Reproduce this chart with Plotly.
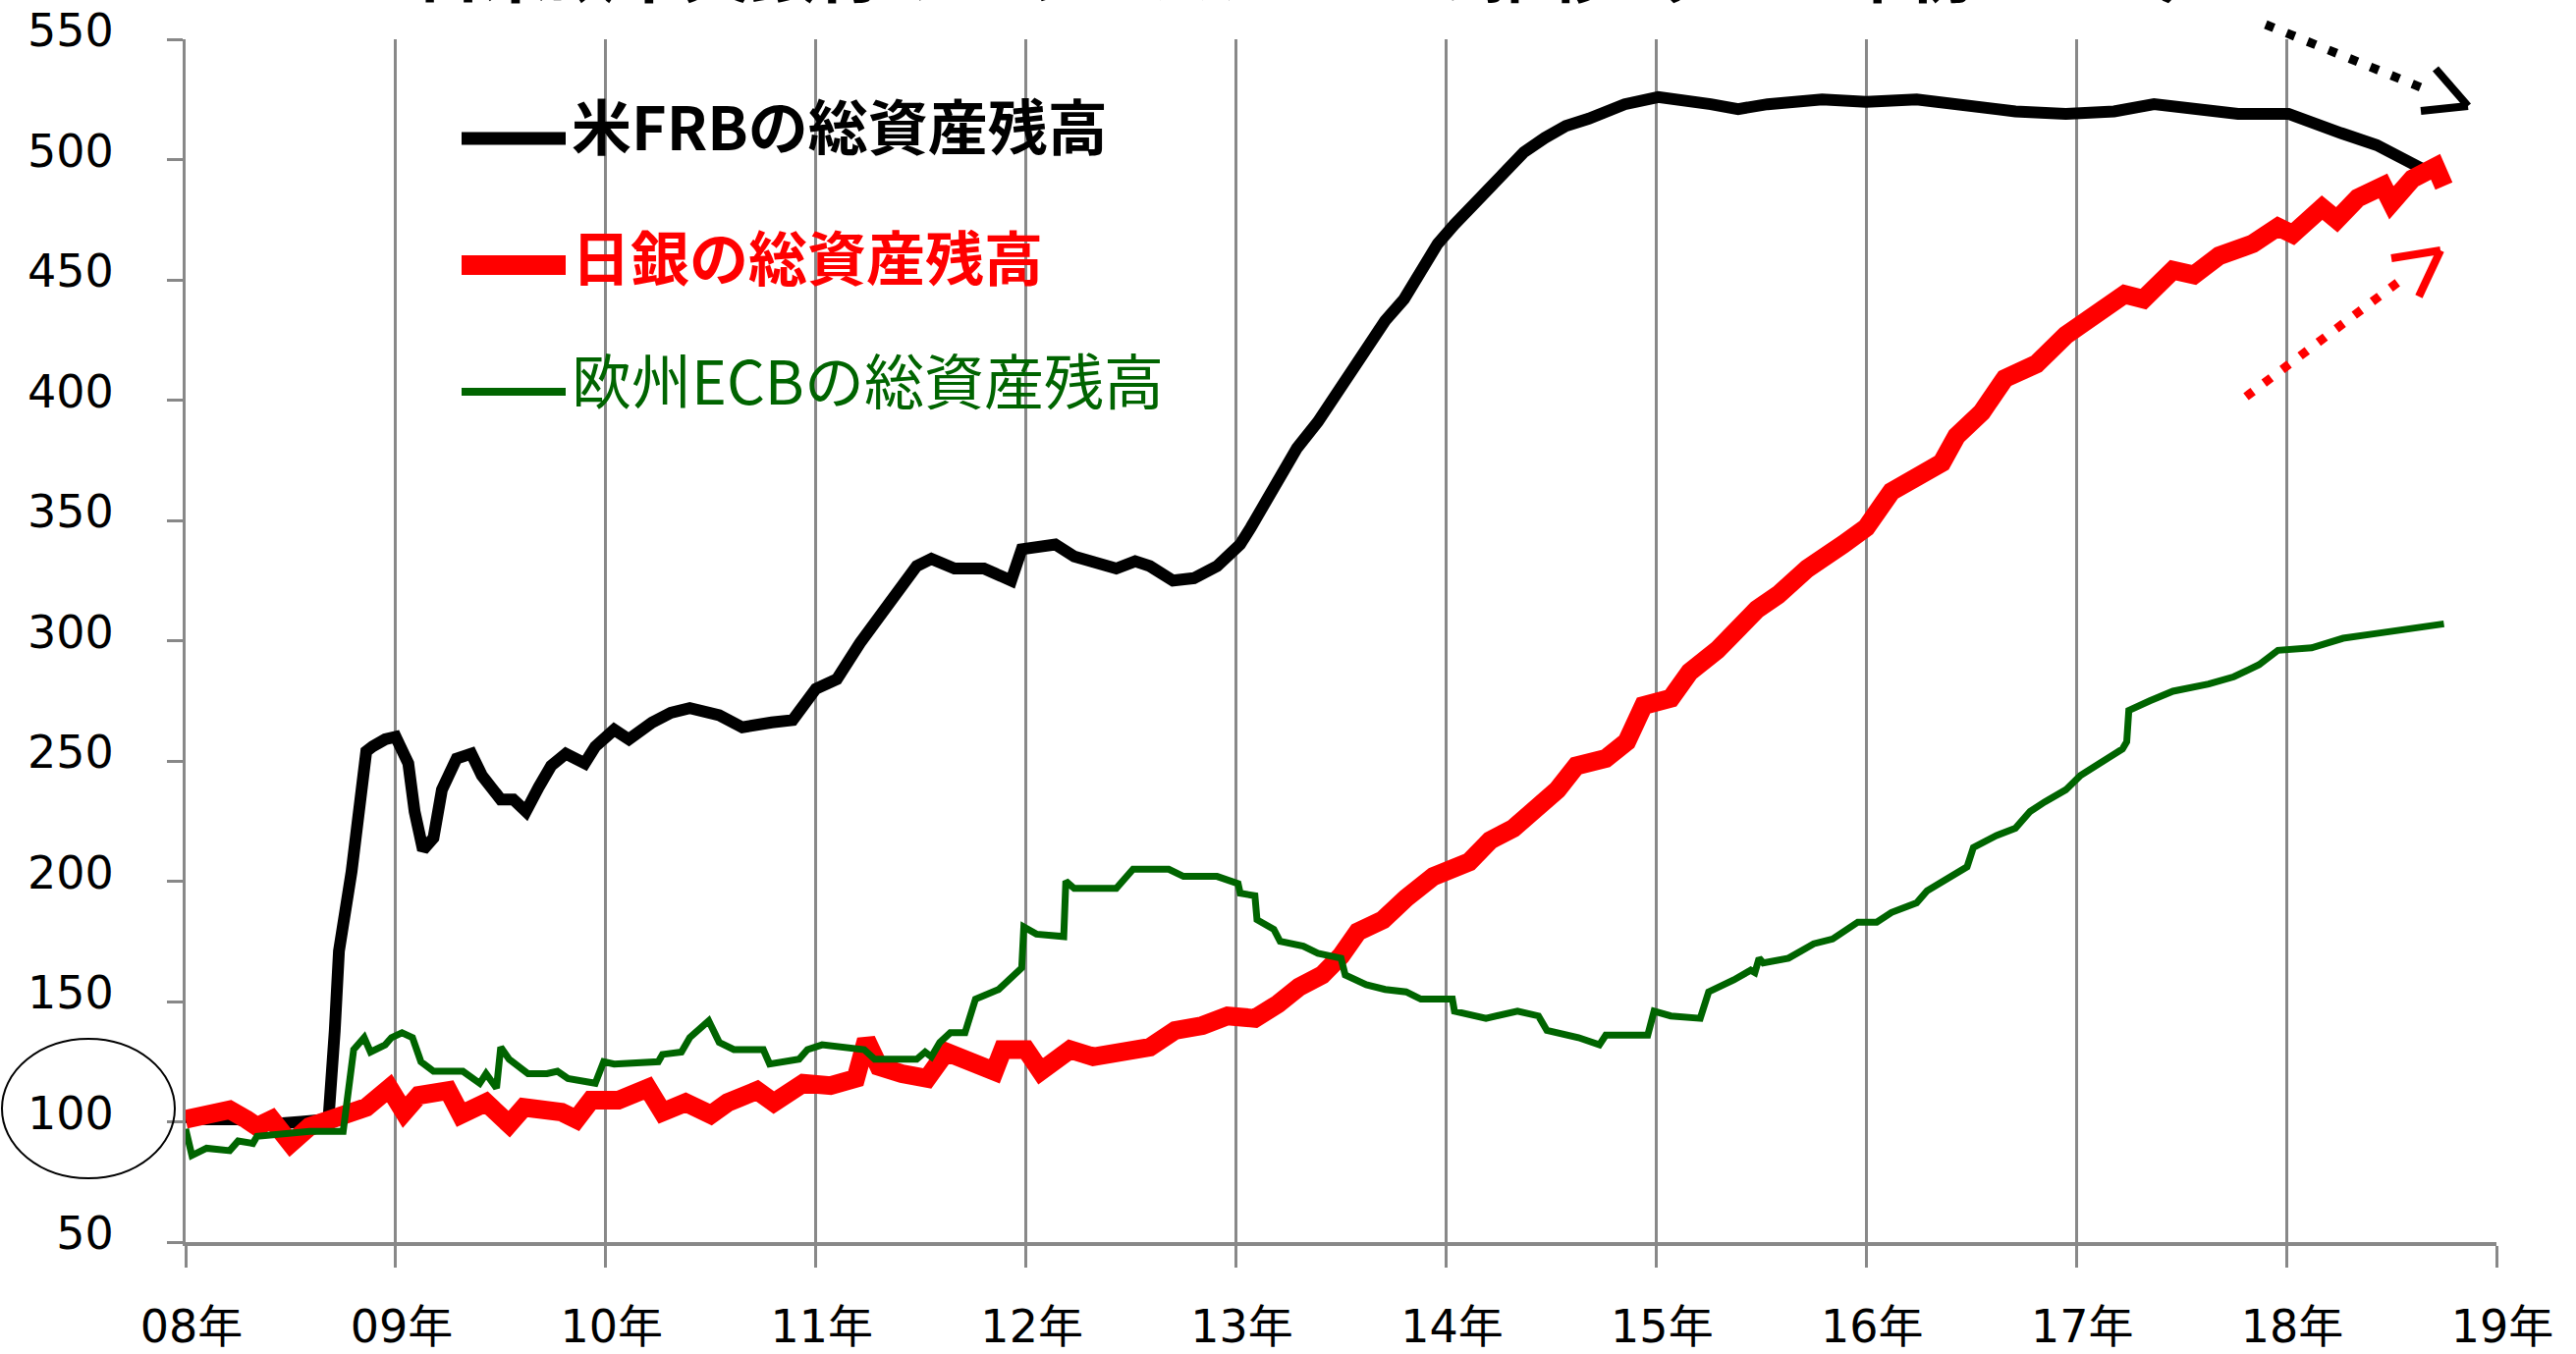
import plotly.graph_objects as go

# ---------------- data (index, 2008年初 = 100) ----------------
frb_year = [2008.00, 2008.10, 2008.25, 2008.40, 2008.55, 2008.68, 2008.71, 2008.73, 2008.79, 2008.82,
            2008.86, 2008.89, 2008.95, 2009.00, 2009.06, 2009.09, 2009.13, 2009.18, 2009.22, 2009.29,
            2009.36, 2009.41, 2009.50, 2009.56, 2009.62, 2009.68, 2009.74, 2009.81, 2009.90, 2009.95,
            2010.04, 2010.11, 2010.22, 2010.31, 2010.40, 2010.54, 2010.65, 2010.79, 2010.89, 2011.00,
            2011.10, 2011.21, 2011.35, 2011.48, 2011.55, 2011.66, 2011.80, 2011.93, 2011.98, 2012.14,
            2012.23, 2012.43, 2012.52, 2012.59, 2012.70, 2012.80, 2012.91, 2013.02, 2013.07, 2013.12,
            2013.21, 2013.29, 2013.39, 2013.47, 2013.55, 2013.63, 2013.71, 2013.80, 2013.88, 2013.96,
            2014.04, 2014.12, 2014.21, 2014.29, 2014.37, 2014.47, 2014.57, 2014.68, 2014.76, 2014.85,
            2015.01, 2015.12, 2015.26, 2015.39, 2015.53, 2015.79, 2016.00, 2016.24, 2016.48, 2016.71,
            2016.95, 2017.18, 2017.37, 2017.53, 2017.77, 2018.01, 2018.12, 2018.26, 2018.43, 2018.60,
            2018.65]
frb_value = [102, 101, 101, 99, 100, 101, 138, 171, 204, 226,
             254, 256, 259, 260, 249, 229, 213, 218, 238, 251,
             253, 244, 234, 234, 229, 239, 248, 253, 249, 256,
             263, 259, 266, 270, 272, 269, 264, 266, 267, 280,
             284, 299, 316, 331, 334, 330, 330, 325, 338, 340,
             335, 330, 333, 331, 325, 326, 331, 340, 347, 354,
             368, 380, 391, 402, 412, 423, 433, 442, 454, 465,
             473, 480, 489, 496, 503, 509, 514, 517, 520, 523,
             526, 525, 523, 521, 523, 525, 524, 525, 522, 520,
             519, 520, 523, 521, 519, 519, 516, 511, 506, 499,
             496]

boj_year = [2008.00, 2008.10, 2008.21, 2008.29, 2008.34, 2008.41, 2008.50, 2008.59, 2008.72, 2008.80,
            2008.86, 2008.97, 2009.04, 2009.11, 2009.25, 2009.31, 2009.43, 2009.54, 2009.61, 2009.79,
            2009.86, 2009.93, 2010.06, 2010.20, 2010.27, 2010.38, 2010.50, 2010.58, 2010.72, 2010.80,
            2010.94, 2011.07, 2011.19, 2011.24, 2011.30, 2011.41, 2011.53, 2011.62, 2011.77, 2011.85,
            2011.89, 2012.00, 2012.07, 2012.21, 2012.32, 2012.48, 2012.59, 2012.71, 2012.84, 2012.96,
            2013.09, 2013.20, 2013.30, 2013.41, 2013.50, 2013.58, 2013.70, 2013.81, 2013.94, 2014.11,
            2014.21, 2014.32, 2014.44, 2014.53, 2014.62, 2014.76, 2014.86, 2014.94, 2015.07, 2015.16,
            2015.29, 2015.39, 2015.48, 2015.58, 2015.72, 2015.89, 2016.00, 2016.12, 2016.24, 2016.36,
            2016.43, 2016.55, 2016.66, 2016.81, 2016.95, 2017.09, 2017.23, 2017.32, 2017.46, 2017.56,
            2017.68, 2017.84, 2017.96, 2018.03, 2018.17, 2018.24, 2018.34, 2018.46, 2018.50, 2018.60,
            2018.71, 2018.75]
boj_value = [101, 103, 105, 101, 98, 101, 91, 98, 101, 103,
             106, 114, 104, 111, 113, 103, 108, 99, 106, 104,
             101, 109, 109, 114, 104, 108, 103, 108, 113, 108,
             116, 115, 118, 134, 123, 120, 118, 129, 125, 121,
             130, 130, 121, 130, 127, 130, 131, 138, 140, 144,
             143, 149, 156, 161, 169, 179, 184, 193, 202, 208,
             217, 222, 231, 238, 248, 251, 258, 273, 276, 287,
             296, 306, 313, 319, 330, 340, 347, 362, 367, 374,
             385, 395, 409, 415, 427, 435, 444, 442, 454, 452,
             460, 465, 472, 469, 480, 475, 484, 489, 482, 492,
             497, 489]

ecb_year = [2008.00, 2008.03, 2008.10, 2008.21, 2008.25, 2008.32, 2008.34, 2008.47, 2008.59, 2008.75,
            2008.78, 2008.80, 2008.85, 2008.88, 2008.95, 2008.98, 2009.03, 2009.08, 2009.12, 2009.18,
            2009.32, 2009.40, 2009.43, 2009.48, 2009.50, 2009.54, 2009.63, 2009.72, 2009.77, 2009.82,
            2009.95, 2009.99, 2010.04, 2010.25, 2010.27, 2010.36, 2010.40, 2010.49, 2010.54, 2010.61,
            2010.75, 2010.78, 2010.92, 2010.96, 2011.03, 2011.12, 2011.23, 2011.28, 2011.48, 2011.52,
            2011.55, 2011.59, 2011.64, 2011.71, 2011.76, 2011.87, 2011.98, 2011.99, 2012.05, 2012.18,
            2012.19, 2012.23, 2012.43, 2012.51, 2012.68, 2012.75, 2012.91, 2013.01, 2013.02, 2013.09,
            2013.10, 2013.18, 2013.21, 2013.32, 2013.39, 2013.50, 2013.52, 2013.62, 2013.71, 2013.81,
            2013.88, 2014.03, 2014.04, 2014.19, 2014.34, 2014.44, 2014.48, 2014.63, 2014.73, 2014.76,
            2014.96, 2014.99, 2015.07, 2015.21, 2015.25, 2015.37, 2015.45, 2015.47, 2015.49, 2015.51,
            2015.63, 2015.75, 2015.84, 2015.96, 2016.05, 2016.12, 2016.24, 2016.29, 2016.38, 2016.48,
            2016.51, 2016.62, 2016.71, 2016.78, 2016.85, 2016.95, 2017.02, 2017.11, 2017.22, 2017.24,
            2017.25, 2017.35, 2017.46, 2017.63, 2017.75, 2017.87, 2017.96, 2018.12, 2018.27, 2018.43,
            2018.59, 2018.75]
ecb_value = [97, 86, 89, 88, 92, 91, 94, 95, 96, 96,
             116, 130, 135, 129, 132, 135, 137, 135, 125, 121,
             121, 116, 120, 114, 131, 126, 120, 120, 121, 118,
             116, 125, 124, 125, 128, 129, 135, 142, 133, 130,
             130, 124, 126, 130, 132, 131, 130, 126, 126, 129,
             127, 133, 137, 137, 151, 155, 164, 181, 178, 177,
             200, 197, 197, 205, 205, 202, 202, 199, 195, 194,
             184, 180, 175, 173, 170, 168, 161, 157, 155, 154,
             151, 151, 146, 143, 146, 144, 138, 135, 132, 136,
             136, 146, 144, 143, 154, 159, 163, 162, 168, 166,
             168, 174, 176, 183, 183, 187, 191, 196, 201, 206,
             214, 219, 222, 229, 233, 238, 244, 249, 255, 258,
             271, 275, 279, 282, 285, 290, 296, 297, 301, 303,
             305, 307]

year_ticks = [2008, 2009, 2010, 2011, 2012, 2013, 2014, 2015, 2016, 2017, 2018, 2019]
year_labels = ["08年", "09年", "10年", "11年", "12年", "13年", "14年", "15年", "16年", "17年", "18年", "19年"]
value_ticks = [50, 100, 150, 200, 250, 300, 350, 400, 450, 500, 550]

series_names = ["米FRBの総資産残高", "日銀の総資産残高", "欧州ECBの総資産残高"]
title_text = "日米欧中央銀行のバランスシートの推移（2008年初＝100）"

# ---------------- layout geometry (pixels) ----------------
W, H = 2623, 1379
L, R, T, B = 189, 2542, 40, 1265
GRID = "#888888"
FONT = "DejaVu Sans, Noto Sans CJK JP"
JP = "Noto Sans CJK JP"


def px(x):
    return (x - L) / (R - L)


def py(y):
    return (B - y) / (B - T)


fig = go.Figure()
fig.add_trace(go.Scatter(x=frb_year, y=frb_value, mode="lines", name=series_names[0],
                         line=dict(color="#000000", width=12), showlegend=False))
fig.add_trace(go.Scatter(x=boj_year, y=boj_value, mode="lines", name=series_names[1],
                         line=dict(color="#FF0000", width=19), showlegend=False))
fig.add_trace(go.Scatter(x=ecb_year, y=ecb_value, mode="lines", name=series_names[2],
                         line=dict(color="#006400", width=7), showlegend=False))

shapes = []
# white legend box hiding the grid
shapes.append(dict(type="rect", xref="paper", yref="paper", layer="between",
                   x0=px(415), x1=px(1245), y0=py(465), y1=py(74),
                   fillcolor="white", line=dict(width=0)))
# legend samples
legend_items = [
    (series_names[0], "#000000", 13, 141, 127, True, 61),
    (series_names[1], "#FF0000", 20, 270, 259, True, 60),
    (series_names[2], "#006400", 8, 399, 385, False, 61),
]
annotations = []
for name, col, lw, ly, ty, bold, fs in legend_items:
    shapes.append(dict(type="line", xref="paper", yref="paper",
                       x0=px(470), x1=px(576), y0=py(ly), y1=py(ly),
                       line=dict(color=col, width=lw)))
    txt = f"<b>{name}</b>" if bold else name
    annotations.append(dict(text=txt, xref="paper", yref="paper", x=px(580), y=py(ty),
                            xanchor="left", yanchor="middle", showarrow=False,
                            font=dict(family=JP, size=fs, color=col)))

# ellipse around 100
shapes.append(dict(type="circle", xref="paper", yref="paper",
                   x0=px(2), x1=px(178), y0=py(1200), y1=py(1058),
                   line=dict(color="#000000", width=2)))

# dotted arrows
def arrow(x0, y0, x1, y1, tip, arm1, arm2, col):
    shapes.append(dict(type="line", xref="paper", yref="paper",
                       x0=px(x0), y0=py(y0), x1=px(x1), y1=py(y1),
                       line=dict(color=col, width=9, dash="9px,14px")))
    for a in (arm1, arm2):
        shapes.append(dict(type="line", xref="paper", yref="paper",
                           x0=px(a[0]), y0=py(a[1]), x1=px(tip[0]), y1=py(tip[1]),
                           line=dict(color=col, width=8)))

arrow(2307, 25, 2470, 91, (2513, 108), (2480, 70), (2465, 113), "#000000")
arrow(2287, 404, 2445, 285, (2485, 255), (2435, 263), (2463, 302), "#FF0000")

# title (cut off at the top edge in the original)
annotations.append(dict(text=f"<b>{title_text}</b>", xref="paper", yref="paper",
                        x=px(1344), y=py(19), xanchor="center", yanchor="bottom",
                        showarrow=False, font=dict(family=JP, size=68, color="#000000")))

fig.update_layout(
    width=W, height=H,
    margin=dict(l=L, r=W - R, t=T, b=H - B, pad=0, autoexpand=False),
    paper_bgcolor="white", plot_bgcolor="white",
    font=dict(family=FONT, size=46, color="#000000"),
    showlegend=False,
    shapes=shapes, annotations=annotations,
    xaxis=dict(range=[2008, 2019], tickmode="array", tickvals=year_ticks, ticktext=year_labels,
               automargin=False,
               showgrid=True, gridcolor=GRID, gridwidth=3, zeroline=False,
               showline=True, linecolor=GRID, linewidth=4,
               ticks="outside", ticklen=22, tickwidth=3, tickcolor=GRID,
               tickfont=dict(family=FONT, size=46, color="#000000"),
               ticklabelstandoff=21, ticklabelshift=6),
    yaxis=dict(range=[50, 550], tickmode="array", tickvals=value_ticks,
               automargin=False,
               showgrid=False, zeroline=False,
               showline=True, linecolor=GRID, linewidth=3,
               ticks="outside", ticklen=16, tickwidth=3, tickcolor=GRID,
               tickfont=dict(family=FONT, size=46, color="#000000"),
               ticklabelstandoff=45, ticklabelshift=-9),
)

fig.write_html("out.html", config={"displayModeBar": False},
               post_script="document.body.style.margin='0px';document.body.style.overflow='hidden';")
